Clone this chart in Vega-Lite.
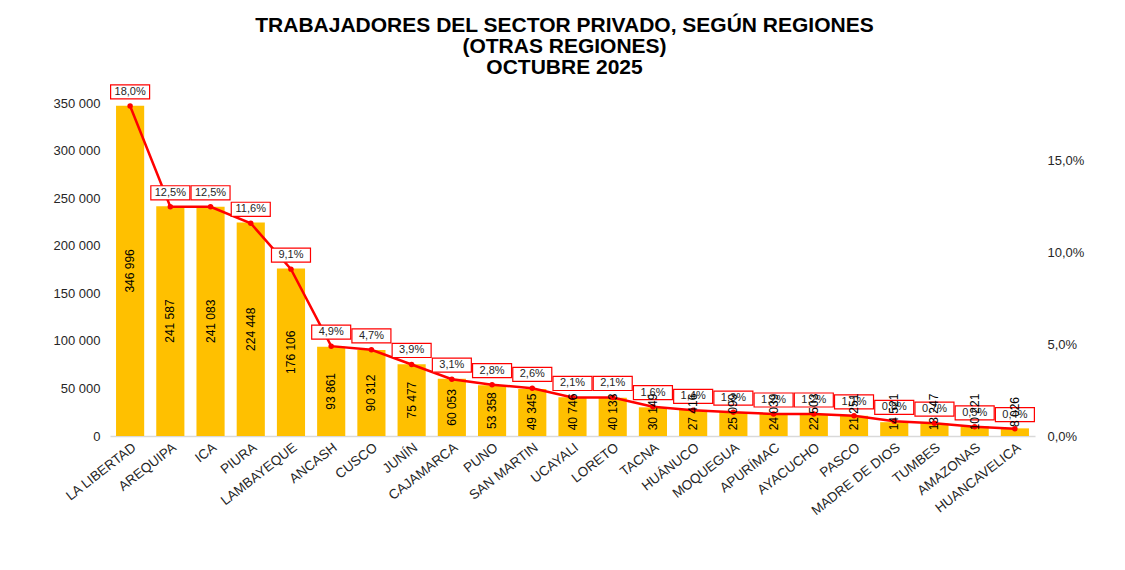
{
  "$schema": "https://vega.github.io/schema/vega-lite/v6.json",
  "width": 925,
  "height": 333,
  "autosize": {"type": "none"},
  "padding": {"left": 110, "top": 103, "right": 90, "bottom": 134},
  "background": "white",
  "title": {
    "text": ["TRABAJADORES DEL SECTOR PRIVADO, SEGÚN REGIONES", "(OTRAS REGIONES)", "OCTUBRE 2025"],
    "font": "Liberation Sans",
    "fontSize": 21,
    "fontWeight": "bold",
    "color": "#000000",
    "lineHeight": 21,
    "anchor": "middle",
    "offset": 5,
    "dx": -8
  },
  "config": {
    "locale": {"number": {"decimal": ",", "thousands": " ", "grouping": [3], "currency": ["", ""]}},
    "view": {"stroke": null},
    "axis": {"labelFont": "Liberation Sans", "labelColor": "#262626", "grid": false, "ticks": false}
  },
  "data": {
    "values": [
      {"region": "LA LIBERTAD", "trabajadores": 346996, "pct": 0.180},
      {"region": "AREQUIPA", "trabajadores": 241587, "pct": 0.125},
      {"region": "ICA", "trabajadores": 241083, "pct": 0.125},
      {"region": "PIURA", "trabajadores": 224448, "pct": 0.116},
      {"region": "LAMBAYEQUE", "trabajadores": 176106, "pct": 0.091},
      {"region": "ANCASH", "trabajadores": 93861, "pct": 0.049},
      {"region": "CUSCO", "trabajadores": 90312, "pct": 0.047},
      {"region": "JUNÍN", "trabajadores": 75477, "pct": 0.039},
      {"region": "CAJAMARCA", "trabajadores": 60053, "pct": 0.031},
      {"region": "PUNO", "trabajadores": 53358, "pct": 0.028},
      {"region": "SAN MARTIN", "trabajadores": 49345, "pct": 0.026},
      {"region": "UCAYALI", "trabajadores": 40746, "pct": 0.021},
      {"region": "LORETO", "trabajadores": 40133, "pct": 0.021},
      {"region": "TACNA", "trabajadores": 30149, "pct": 0.016},
      {"region": "HUÁNUCO", "trabajadores": 27416, "pct": 0.014},
      {"region": "MOQUEGUA", "trabajadores": 25099, "pct": 0.013},
      {"region": "APURÍMAC", "trabajadores": 24039, "pct": 0.012},
      {"region": "AYACUCHO", "trabajadores": 22503, "pct": 0.012},
      {"region": "PASCO", "trabajadores": 21251, "pct": 0.011},
      {"region": "MADRE DE DIOS", "trabajadores": 14521, "pct": 0.008},
      {"region": "TUMBES", "trabajadores": 13247, "pct": 0.007},
      {"region": "AMAZONAS", "trabajadores": 10221, "pct": 0.005},
      {"region": "HUANCAVELICA", "trabajadores": 8026, "pct": 0.004}
    ]
  },
  "encoding": {
    "x": {
      "field": "region", "type": "nominal", "sort": null,
      "scale": {"paddingInner": 0.3, "paddingOuter": 0.15},
      "axis": {"title": null, "labelAngle": -38, "labelFontSize": 13.5, "domainColor": "#d9d9d9", "domainWidth": 1.5, "labelPadding": 4}
    }
  },
  "layer": [
    {
      "mark": {"type": "bar", "color": "#FFC000"},
      "encoding": {
        "y": {"field": "trabajadores", "type": "quantitative", "scale": {"domain": [0, 350000], "nice": false},
          "axis": {"title": null, "orient": "left", "values": [0, 50000, 100000, 150000, 200000, 250000, 300000, 350000], "format": ",d", "domain": false, "labelFontSize": 13, "labelPadding": 10}}
      }
    },
    {
      "layer": [
        {
          "mark": {"type": "line", "color": "#FF0000", "strokeWidth": 2.5},
          "encoding": {}
        },
        {
          "mark": {"type": "point", "filled": true, "color": "#FF0000", "size": 30, "opacity": 1},
          "encoding": {}
        },
        {
          "mark": {"type": "point", "shape": "M-1,-0.36H1V0.36H-1Z", "size": 1521, "filled": true, "fill": "white", "stroke": "#FF0000", "strokeWidth": 1.2, "opacity": 1, "yOffset": -14},
          "encoding": {}
        },
        {
          "mark": {"type": "text", "font": "Liberation Sans", "fontSize": 11, "color": "#262626", "dy": -14, "align": "center", "baseline": "middle"},
          "encoding": {"text": {"field": "pct", "type": "quantitative", "format": ".1%"}}
        }
      ],
      "encoding": {
        "y": {"field": "pct", "type": "quantitative", "scale": {"domain": [0, 0.1816], "nice": false},
          "axis": {"title": null, "orient": "right", "values": [0, 0.05, 0.1, 0.15], "format": ".1%", "domain": false, "labelFontSize": 13, "labelPadding": 12}}
      }
    },
    {
      "mark": {"type": "text", "angle": 270, "font": "Liberation Sans", "fontSize": 12, "color": "#000000", "align": "center", "baseline": "middle"},
      "encoding": {
        "y": {"field": "trabajadores", "type": "quantitative", "scale": {"domain": [50450, 700000], "range": [309, 0], "clamp": true, "nice": false, "zero": false}, "axis": null},
        "text": {"field": "trabajadores", "type": "quantitative", "format": ",d"}
      }
    }
  ],
  "resolve": {"scale": {"y": "independent"}}
}
